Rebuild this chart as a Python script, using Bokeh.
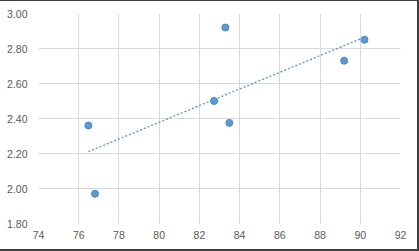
import numpy as np
from bokeh.plotting import figure
from bokeh.models import Range1d, FixedTicker, NumeralTickFormatter, ColumnDataSource
from bokeh.embed import file_html
from bokeh.resources import INLINE

# data
x_vals = [76.48, 76.81, 83.29, 82.73, 83.49, 89.20, 90.21]
y_vals = [2.36, 1.97, 2.92, 2.50, 2.375, 2.73, 2.85]
x_ticks = [74, 76, 78, 80, 82, 84, 86, 88, 90, 92]
y_ticks = [1.80, 2.00, 2.20, 2.40, 2.60, 2.80, 3.00]

BLUE = "#5B9BD5"
GRID = "#D9D9D9"
TEXT = "#595959"
FONT = "Liberation Sans"

p = figure(frame_width=362, frame_height=210,
           min_border_left=38, min_border_right=17, min_border_top=12, min_border_bottom=26,
           x_range=Range1d(74, 92), y_range=Range1d(1.8, 3.0),
           output_backend="svg", toolbar_location=None,
           background_fill_color="white", border_fill_color="white")
p.styles = {"border-top": "1px solid #404040",
            "border-right": "2px solid #404040",
            "border-bottom": "2px solid #404040"}
p.outline_line_color = None

p.xaxis.ticker = FixedTicker(ticks=x_ticks)
p.yaxis.ticker = FixedTicker(ticks=y_ticks)
p.yaxis.formatter = NumeralTickFormatter(format="0.00")
for ax in (p.xaxis, p.yaxis):
    ax.axis_line_color = None
    ax.major_tick_line_color = None
    ax.minor_tick_line_color = None
    ax.major_tick_in = 0
    ax.major_tick_out = 0
    ax.major_label_text_color = TEXT
    ax.major_label_text_font = FONT
    ax.major_label_text_font_size = "10.5px"
p.yaxis.major_label_standoff = 11
p.xaxis.major_label_standoff = 7

p.xgrid.grid_line_color = GRID
p.ygrid.grid_line_color = GRID
p.xgrid.grid_line_width = 1
p.ygrid.grid_line_width = 1

# linear trendline from the data
k, b = np.polyfit(x_vals, y_vals, 1)
tx = [min(x_vals), max(x_vals)]
ty = [k * t + b for t in tx]
p.line(tx, ty, line_color=BLUE, line_width=1.4, line_dash="2 2")

src = ColumnDataSource(dict(x=x_vals, y=y_vals))
p.scatter("x", "y", source=src, size=7, fill_color=BLUE, line_color="#4A86C0", line_width=1)

open("out.html", "w").write(file_html(p, INLINE))
